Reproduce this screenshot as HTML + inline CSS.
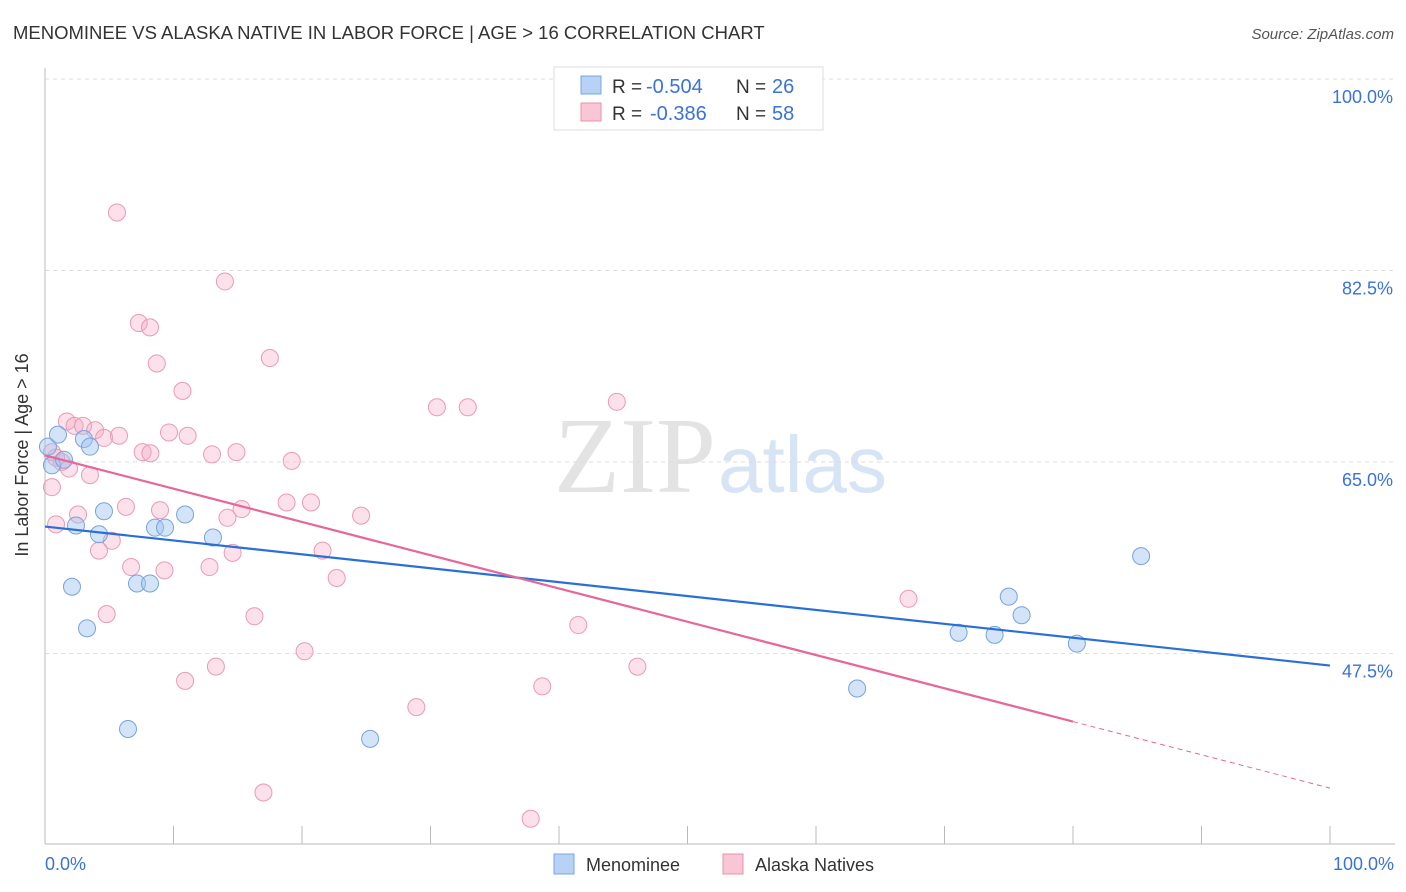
<!DOCTYPE html>
<html><head><meta charset="utf-8">
<style>
body{margin:0;background:#fff;font-family:"Liberation Sans",sans-serif;}
#wrap{position:relative;width:1406px;height:892px;overflow:hidden;}
</style></head>
<body>
<div id="wrap">
<svg id="svg" width="1406" height="892" xmlns="http://www.w3.org/2000/svg">
<text x="13" y="39" font-size="18.5" fill="#333">MENOMINEE VS ALASKA NATIVE IN LABOR FORCE | AGE &gt; 16 CORRELATION CHART</text>
<text x="1394" y="39" font-size="15" fill="#555" font-style="italic" text-anchor="end">Source: ZipAtlas.com</text>
<text x="716" y="492" font-size="108" fill="#e3e3e3" text-anchor="end" font-family="Liberation Serif,serif">ZIP</text>
<text x="718" y="492" font-size="80" fill="#d6e4f5">atlas</text>
<g id="grid"></g><g id="axes"></g><g id="pts"></g><g id="trend"></g>
<text x="28" y="455" font-size="18" fill="#333" text-anchor="middle" transform="rotate(-90 28 455)">In Labor Force | Age &gt; 16</text>
<text x="45" y="870" font-size="18" fill="#3a72d8">0.0%</text>
<text x="1394" y="870" font-size="18" fill="#3a72d8" text-anchor="end">100.0%</text>
<g>
<rect x="554" y="67" width="269" height="63" fill="#fff" stroke="#ddd"/>
<rect x="581" y="76" width="20" height="18" fill="#b7d2f5" stroke="#7aa7e0"/>
<rect x="581" y="103" width="20" height="18" fill="#f8c6d4" stroke="#e890ab"/>
<text x="612" y="93" font-size="19" fill="#333">R =</text>
<text x="646" y="93" font-size="20" fill="#3a72d8">-0.504</text>
<text x="736" y="93" font-size="19" fill="#333">N =</text>
<text x="772" y="93" font-size="20" fill="#3a72d8">26</text>
<text x="612" y="120" font-size="19" fill="#333">R =</text>
<text x="650" y="120" font-size="20" fill="#3a72d8">-0.386</text>
<text x="736" y="120" font-size="19" fill="#333">N =</text>
<text x="772" y="120" font-size="20" fill="#3a72d8">58</text>
</g>
<g>
<rect x="554" y="854" width="20" height="20" fill="#b7d2f5" stroke="#7aa7e0"/>
<text x="586" y="871" font-size="18" fill="#333">Menominee</text>
<rect x="723" y="854" width="20" height="20" fill="#f8c6d4" stroke="#e890ab"/>
<text x="755" y="871" font-size="18" fill="#333">Alaska Natives</text>
</g>
</svg>
</div>
<script>
const yTicks=[100,82.5,65,47.5];
const yTickLabels=["100.0%","82.5%","65.0%","47.5%"];
const blueX=[0.23,0.54,1.01,1.48,3.03,3.5,2.41,2.1,3.27,4.2,4.59,6.46,7.16,8.17,8.56,9.34,10.9,13.07,25.3,63.2,71.1,73.9,75.0,76.0,80.3,85.3];
const blueY=[66.4,64.7,67.5,65.2,67.1,66.4,59.2,53.6,49.8,58.4,60.5,40.6,53.9,53.9,59.0,59.0,60.2,58.1,39.7,44.3,49.4,49.2,52.7,51.0,48.4,56.4];
const pinkX=[5.6,14.0,7.3,8.17,8.7,17.5,10.7,30.5,32.9,44.5,1.7,2.3,2.96,3.9,4.6,5.76,9.65,11.1,7.6,8.2,13.0,14.9,19.2,0.54,1.3,1.87,3.5,0.54,0.86,2.57,6.3,8.95,14.2,15.3,18.8,20.7,24.6,5.2,4.2,6.7,9.3,12.8,14.6,21.6,22.7,4.8,16.3,41.5,67.2,10.9,13.3,20.2,28.9,38.7,46.1,17.0,37.8,0.86];
const pinkY=[87.8,81.5,77.7,77.3,74.0,74.5,71.5,70.0,70.0,70.5,68.7,68.3,68.3,67.9,67.2,67.4,67.7,67.4,65.9,65.8,65.7,65.9,65.1,65.9,65.0,64.4,63.8,62.7,59.3,60.2,60.9,60.6,59.9,60.7,61.3,61.3,60.1,57.8,56.9,55.4,55.1,55.4,56.7,56.9,54.4,51.1,50.9,50.1,52.5,45.0,46.3,47.7,42.6,44.5,46.3,34.8,32.4,65.4];
const blueTrend=[59.1,46.4];
const pinkTrend=[65.6,35.2];
const pinkSolidEnd=80;

const NS="http://www.w3.org/2000/svg";
const xs=v=>45+v*12.85;
const ys=v=>79+(100-v)/17.5*191.5;
function mk(tag,attrs,parent){const e=document.createElementNS(NS,tag);for(const k in attrs)e.setAttribute(k,attrs[k]);document.getElementById(parent).appendChild(e);return e;}
yTicks.forEach((t,i)=>{
  const l=mk('line',{x1:45,x2:1395,y1:ys(t),y2:ys(t),stroke:'#ddd','stroke-dasharray':'4,4'},'grid');
  
  
  const tx=mk('text',{x:1393,y:ys(t)+24,'font-size':18,fill:'#3a72d8','text-anchor':'end'},'grid');
  tx.textContent=yTickLabels[i];
  
  
});
const ax=mk('line',{x1:45,x2:45,y1:68,y2:844,stroke:'#bbb'},'axes');


const bx=mk('line',{x1:45,x2:1395,y1:844,y2:844,stroke:'#bbb'},'axes');


for(let i=0;i<=10;i++){
  const t=mk('line',{x1:xs(i*10),x2:xs(i*10),y1:826,y2:844,stroke:'#bbb'},'axes');
  
  
}
pinkX.forEach((x,i)=>{
  const c=mk('circle',{cx:xs(x),cy:ys(pinkY[i]),r:8.5,fill:'rgba(245,170,195,0.35)',stroke:'#e99ab4','stroke-width':1},'pts');
  
  
});
blueX.forEach((x,i)=>{
  const c=mk('circle',{cx:xs(x),cy:ys(blueY[i]),r:8.5,fill:'rgba(160,195,240,0.45)',stroke:'#76a3de','stroke-width':1},'pts');
  
  
});
const bl=mk('line',{x1:xs(0),y1:ys(blueTrend[0]),x2:xs(100),y2:ys(blueTrend[1]),stroke:'#2a6fd6','stroke-width':2.2},'trend');


const pe=pinkTrend[0]+(pinkTrend[1]-pinkTrend[0])*pinkSolidEnd/100;
const pl=mk('line',{x1:xs(0),y1:ys(pinkTrend[0]),x2:xs(pinkSolidEnd),y2:ys(pe),stroke:'#e5689a','stroke-width':2.2},'trend');


const pd=mk('line',{x1:xs(pinkSolidEnd),y1:ys(pe),x2:xs(100),y2:ys(pinkTrend[1]),stroke:'#e5689a','stroke-width':1,'stroke-dasharray':'5,4'},'trend');


</script>
</body></html>
